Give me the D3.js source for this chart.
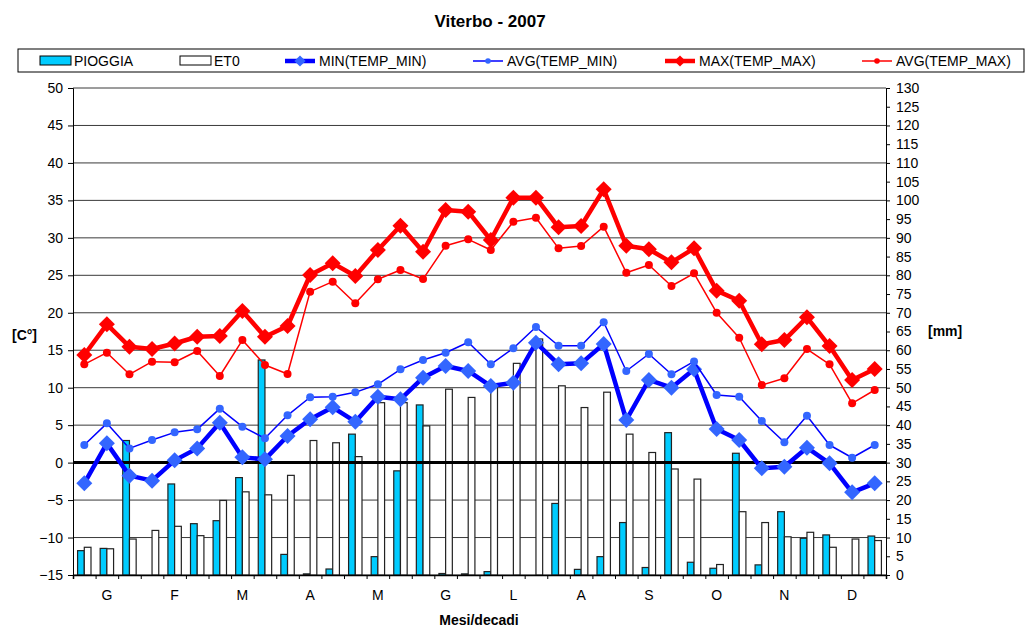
<!DOCTYPE html>
<html>
<head>
<meta charset="utf-8">
<script src="https://cdn.jsdelivr.net/npm/d3@7"></script>
<style>
    body { margin: 0; background: #fff; }
    text { font-family: "Liberation Sans", Arial, sans-serif; }
</style>
</head>
<body>
<div id="chart"></div>
<script>
// decadi: 3 per month, 36 in the year
const months = ["G", "F", "M", "A", "M", "G", "L", "A", "S", "O", "N", "D"]
const decadi = d3.range(36)

// mm (right axis)
const pioggia = [6.5, 7.1, 35.9, 0, 24.3, 13.7, 14.5, 26.0, 57.4, 5.5, 0.3, 1.6,
    37.6, 4.9, 27.8, 45.4, 0.4, 0.3, 0.9, 0, 0, 19.1, 1.5, 4.9,
    14.0, 2.0, 38.0, 3.4, 1.8, 32.5, 2.7, 16.9, 9.8, 10.7, 0, 10.4]
const et0 = [7.4, 7.0, 9.6, 11.9, 13.0, 10.5, 19.9, 22.2, 21.4, 26.6, 35.9, 35.3,
    31.6, 46.0, 46.0, 39.8, 49.6, 47.4, 50.0, 56.5, 63.0, 50.5, 44.7, 48.8,
    37.6, 32.7, 28.3, 25.6, 2.8, 16.9, 14.0, 10.2, 11.4, 7.4, 9.6, 9.2]

// °C (left axis)
const minTempMin = [-2.77, 2.57, -1.74, -2.41, 0.3, 1.9, 5.33, 0.7, 0.44, 3.55, 5.78, 7.38,
    5.46, 8.8, 8.45, 11.33, 12.89, 12.23, 10.22, 10.67, 16.0, 13.12, 13.25, 15.83,
    5.69, 11.03, 10.0, 12.45, 4.49, 3.02, -0.76, -0.55, 1.99, -0.09, -3.96, -2.77]
const avgTempMin = [2.35, 5.24, 1.9, 3.02, 4.04, 4.44, 7.2, 4.8, 3.24, 6.31, 8.72, 8.8,
    9.38, 10.45, 12.45, 13.7, 14.67, 16.06, 13.12, 15.26, 18.1, 15.6, 15.6, 18.73,
    12.23, 14.5, 11.79, 13.5, 9.02, 8.8, 5.55, 2.71, 6.26, 2.35, 0.65, 2.35]
const maxTempMax = [14.36, 18.46, 15.47, 15.16, 15.9, 16.8, 16.9, 20.24, 16.8, 18.23, 25.04, 26.6,
    24.9, 28.38, 31.62, 28.15, 33.72, 33.49, 29.71, 35.36, 35.36, 31.4, 31.58, 36.48,
    28.95, 28.47, 26.73, 28.6, 22.95, 21.61, 15.79, 16.36, 19.39, 15.56, 11.03, 12.49]
const avgTempMax = [13.12, 14.67, 11.79, 13.47, 13.4, 14.9, 11.56, 16.36, 13.03, 11.83, 22.82, 24.15,
    21.26, 24.47, 25.71, 24.5, 28.95, 29.8, 28.38, 32.15, 32.69, 28.6, 28.91, 31.49,
    25.35, 26.37, 23.57, 25.27, 20.01, 16.67, 10.36, 11.25, 15.16, 13.12, 7.92, 9.69]

const leftTicks = d3.range(-15, 51, 5)
const rightTicks = d3.range(0, 131, 5)

const width = 1031, height = 629
const plot = { left: 73, right: 886, top: 88, bottom: 575 }

let svg = d3.select("#chart")
    .append("svg")
    .attr("width", width)
    .attr("height", height)

// scales
let x = d3.scaleBand()
    .domain(decadi)
    .range([plot.left, plot.right])
    .padding(0)
let xSub = d3.scaleBand()
    .domain(["pioggia", "et0"])
    .range([0, x.bandwidth()])
    .paddingInner(0)
    .paddingOuter(0.684)
let xEdge = d3.scaleLinear().domain([0, 36]).range([plot.left, plot.right])
let yL = d3.scaleLinear().domain([-15, 50]).range([plot.bottom, plot.top])
let yR = d3.scaleLinear().domain([0, 130]).range([plot.bottom, plot.top])

// title
svg.append("text")
    .attr("x", 490).attr("y", 27)
    .attr("text-anchor", "middle")
    .style("font-weight", "bold").style("font-size", "17px")
    .text("Viterbo - 2007")

// gridlines
svg.append("g")
    .selectAll("line")
    .data(leftTicks)
    .enter()
    .append("line")
    .attr("x1", plot.left).attr("x2", plot.right)
    .attr("y1", d => yL(d)).attr("y2", d => yL(d))
    .attr("stroke", "#3a3a3a")
    .attr("stroke-width", 1)

// bars
let barData = decadi.map(i => [
    { i: i, key: "pioggia", v: pioggia[i] },
    { i: i, key: "et0", v: et0[i] }
])
svg.append("g")
    .selectAll("g")
    .data(barData)
    .enter()
    .append("g")
    .attr("transform", (d, i) => "translate(" + x(i) + ",0)")
    .selectAll("rect")
    .data(d => d.filter(b => b.v > 0))
    .enter()
    .append("rect")
    .attr("x", d => xSub(d.key))
    .attr("width", xSub.bandwidth())
    .attr("y", d => yR(d.v))
    .attr("height", d => yR(0) - yR(d.v))
    .attr("fill", d => d.key == "pioggia" ? "#00ccff" : "#ffffff")
    .attr("stroke", "#222")
    .attr("stroke-width", 1.2)

// zero line
svg.append("line")
    .attr("x1", plot.left).attr("x2", plot.right)
    .attr("y1", yL(0)).attr("y2", yL(0))
    .attr("stroke", "#000")
    .attr("stroke-width", 3)

// axes
let axisLeft = svg.append("g")
    .attr("transform", "translate(" + plot.left + ",0)")
    .call(d3.axisLeft(yL).tickValues(leftTicks).tickSize(5).tickPadding(5))
let axisRight = svg.append("g")
    .attr("transform", "translate(" + plot.right + ",0)")
    .call(d3.axisRight(yR).tickValues(rightTicks).tickSize(4).tickPadding(6))
let axisBottom = svg.append("g")
    .attr("transform", "translate(0," + plot.bottom + ")")
    .call(d3.axisBottom(xEdge).tickValues(d3.range(0, 37)).tickSize(4).tickFormat(""))

;[axisLeft, axisRight, axisBottom].forEach(a => {
    a.selectAll("path,line").attr("stroke", "#000")
    a.selectAll("text")
        .style("font-size", "14px")
        .attr("fill", "#000")
        .style("font-family", "'Liberation Sans', Arial, sans-serif")
})
axisBottom.select(".domain").attr("stroke-width", 1.5)

// month labels
svg.append("g")
    .selectAll("text")
    .data(months)
    .enter()
    .append("text")
    .attr("x", (d, i) => xEdge(i * 3 + 1.5))
    .attr("y", 600)
    .attr("text-anchor", "middle")
    .style("font-size", "14px")
    .text(d => d)

// axis titles
svg.append("text")
    .attr("x", 479).attr("y", 625)
    .attr("text-anchor", "middle")
    .style("font-weight", "bold").style("font-size", "14px")
    .text("Mesi/decadi")
svg.append("text")
    .attr("x", 12).attr("y", 340)
    .style("font-weight", "bold").style("font-size", "14px")
    .text("[C°]")
svg.append("text")
    .attr("x", 928).attr("y", 336)
    .style("font-weight", "bold").style("font-size", "14px")
    .text("[mm]")

// line series
const series = [
    { name: "MIN(TEMP_MIN)", values: minTempMin, line: "#0000ff", marker: "#3366ff", width: 4.5, shape: "diamond" },
    { name: "AVG(TEMP_MIN)", values: avgTempMin, line: "#0000ff", marker: "#3366ff", width: 1.5, shape: "circle" },
    { name: "MAX(TEMP_MAX)", values: maxTempMax, line: "#ff0000", marker: "#ff0000", width: 4.5, shape: "diamond" },
    { name: "AVG(TEMP_MAX)", values: avgTempMax, line: "#ff0000", marker: "#ff0000", width: 1.5, shape: "circle" }
]

function drawMarker(g, shape, color) {
    if (shape == "diamond") {
        g.append("path")
            .attr("d", "M0,-8L8,0L0,8L-8,0Z")
            .attr("fill", color)
    } else {
        g.append("circle")
            .attr("r", 4)
            .attr("fill", color)
    }
}

let cx = i => x(i) + x.bandwidth() / 2

series.forEach(s => {
    svg.append("path")
        .datum(s.values)
        .attr("fill", "none")
        .attr("stroke", s.line)
        .attr("stroke-width", s.width)
        .attr("stroke-linejoin", "round")
        .attr("d", d3.line()
            .x((d, i) => cx(i))
            .y(d => yL(d)))

    svg.append("g")
        .selectAll("g")
        .data(s.values)
        .enter()
        .append("g")
        .attr("transform", (d, i) => "translate(" + cx(i) + "," + yL(d) + ")")
        .each(function () { drawMarker(d3.select(this), s.shape, s.marker) })
})

// legend
let legend = svg.append("g")
legend.append("rect")
    .attr("x", 18).attr("y", 49)
    .attr("width", 1006).attr("height", 23)
    .attr("fill", "#fff")
    .attr("stroke", "#000")

const legendX = [40, 180, 285, 473, 665, 862]
let legendItems = [
    { name: "PIOGGIA", fill: "#00ccff" },
    { name: "ET0", fill: "#ffffff" }
].concat(series)

legendItems.forEach((item, k) => {
    let g = legend.append("g").attr("transform", "translate(" + legendX[k] + ",61)")
    if (item.fill) {
        g.append("rect")
            .attr("x", 0).attr("y", -5)
            .attr("width", 31).attr("height", 9)
            .attr("fill", item.fill)
            .attr("stroke", "#000")
    } else {
        g.append("line")
            .attr("x1", 0).attr("x2", 30)
            .attr("stroke", item.line)
            .attr("stroke-width", item.width)
        let m = g.append("g").attr("transform", "translate(15,0) scale(0.7)")
        drawMarker(m, item.shape, item.marker)
    }
    g.append("text")
        .attr("x", 34).attr("y", 5)
        .style("font-size", "14px")
        .text(item.name)
})
</script>
</body>
</html>
